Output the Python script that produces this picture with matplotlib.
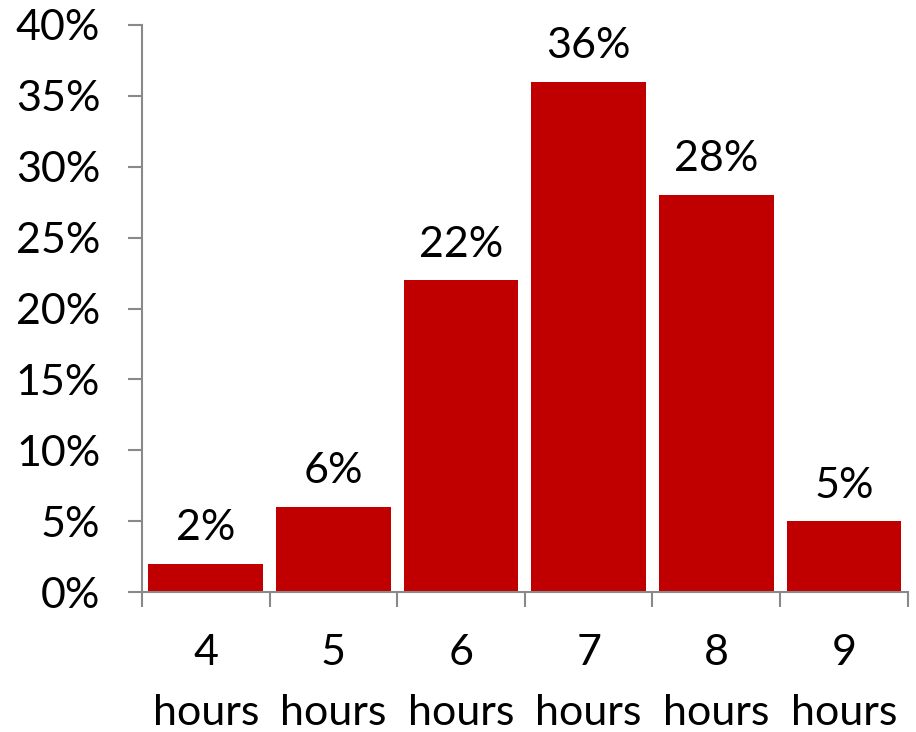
import matplotlib
matplotlib.use("Agg")
import matplotlib.pyplot as plt
from matplotlib.ticker import FuncFormatter, FixedLocator

categories = ["4\nhours", "5\nhours", "6\nhours", "7\nhours", "8\nhours", "9\nhours"]
values = [2, 6, 22, 36, 28, 5]
yticks = [0, 5, 10, 15, 20, 25, 30, 35, 40]

plt.rcParams['font.family'] = ['Lato', 'DejaVu Sans']
fig = plt.figure(figsize=(9.16, 7.32), dpi=100)
ax = fig.add_axes([0.155, 0.191, 0.836, 0.775])

FS = 31
x = list(range(len(values)))
bars = ax.bar(x, values, width=0.9, color="#C00000", zorder=2)
for xi, v in zip(x, values):
    ax.annotate(f"{v}%", (xi, v), xytext=(0, 12), textcoords="offset points",
                ha="center", va="bottom", fontsize=FS)

ax.set_xlim(-0.5, len(values) - 0.5)
ax.set_ylim(0, 40)
ax.set_yticks(yticks)
ax.yaxis.set_major_formatter(FuncFormatter(lambda v, p: f"{int(v)}%"))
ax.tick_params(axis="y", labelsize=FS, length=10, width=1.5, color="#898989", pad=20)

ax.xaxis.set_major_locator(FixedLocator([i - 0.5 for i in range(len(values) + 1)]))
ax.set_xticklabels([""] * (len(values) + 1))
ax.set_xticks(x, minor=True)
ax.set_xticklabels(categories, minor=True, fontsize=FS, linespacing=1.72)
ax.tick_params(axis="x", which="major", length=11, width=1.5, color="#898989", direction="out")
ax.tick_params(axis="x", which="minor", length=0, pad=30)

for s in ["top", "right"]:
    ax.spines[s].set_visible(False)
for s in ["left", "bottom"]:
    ax.spines[s].set_color("#898989")
    ax.spines[s].set_linewidth(1.5)

fig.savefig("out.png", dpi=100)
